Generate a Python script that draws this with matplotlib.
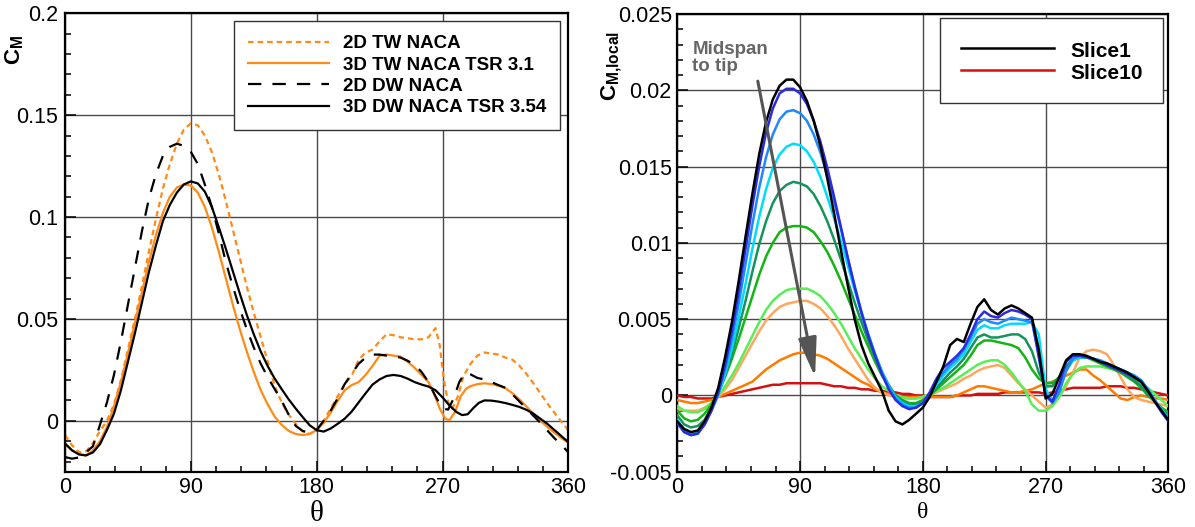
#moment coefficient vs azimuth: 2D/3D comparison (left) and spanwise slices (right)

import matplotlib
matplotlib.use('Agg')
import matplotlib.pyplot as plt
from matplotlib.ticker import MultipleLocator, FuncFormatter

plt.rcParams['font.family'] = 'Liberation Sans'
plt.rcParams['mathtext.fontset'] = 'custom'
plt.rcParams['mathtext.rm'] = 'Liberation Sans'
plt.rcParams['mathtext.bf'] = 'Liberation Sans:bold'

# ---------- left panel data ----------
tw2d_theta = [0, 5, 10, 15, 20, 25, 30, 35, 40, 45, 50, 55, 60, 65, 70, 75, 80, 85, 90,
              95, 100, 105, 110, 115, 120, 125, 130, 135, 140, 145, 150, 155, 160, 165, 170,
              175, 180, 185, 190, 195, 200, 205, 210, 215, 220, 225, 230, 235, 240, 245,
              250, 255, 260, 265, 268, 271, 274, 277, 281, 285, 290, 295, 300, 305, 310,
              315, 320, 325, 330, 335, 340, 345, 350, 355, 360]
tw2d_cm = [-0.007, -0.012, -0.0155, -0.015, -0.011, -0.005, 0.000, 0.008, 0.020, 0.035,
           0.050, 0.066, 0.083, 0.099, 0.114, 0.126, 0.136, 0.143, 0.146, 0.145, 0.140,
           0.132, 0.121, 0.108, 0.094, 0.080, 0.066, 0.053, 0.041, 0.029, 0.017, 0.009,
           0.003, -0.0015, -0.0052, -0.0065, -0.0045, 0.000, 0.006, 0.012, 0.018, 0.022,
           0.030, 0.0335, 0.035, 0.039, 0.0425, 0.042, 0.041, 0.0405, 0.040, 0.040, 0.041,
           0.0455, 0.037, 0.020, 0.009, 0.006, 0.012, 0.022, 0.028, 0.032, 0.0335, 0.033,
           0.0325, 0.031, 0.030, 0.027, 0.023, 0.0184, 0.0135, 0.0085, 0.004, -0.0005,
           -0.0046]

tw3d_theta = [0, 5, 10, 15, 20, 25, 30, 35, 40, 45, 50, 55, 60, 65, 70, 75, 80, 85, 90,
              95, 100, 105, 110, 115, 120, 125, 130, 135, 140, 145, 150, 155, 160, 165, 170,
              175, 180, 185, 190, 195, 200, 205, 210, 215, 220, 225, 230, 235, 240, 245,
              250, 255, 260, 265, 268, 272, 275, 279, 283, 287, 290, 295, 300, 305, 310,
              315, 320, 325, 330, 335, 340, 345, 350, 355, 360]
tw3d_cm = [-0.011, -0.0145, -0.0165, -0.017, -0.0145, -0.010, -0.003, 0.007, 0.019, 0.033,
           0.048, 0.063, 0.078, 0.091, 0.102, 0.110, 0.1145, 0.116, 0.1155, 0.112, 0.105,
           0.095, 0.083, 0.070, 0.057, 0.045, 0.034, 0.024, 0.015, 0.008, 0.002, -0.002,
           -0.005, -0.0065, -0.007, -0.0065, -0.0045, -0.001, 0.004, 0.0097, 0.015, 0.0175,
           0.019, 0.0225, 0.027, 0.032, 0.0325, 0.032, 0.0315, 0.029, 0.026, 0.0225, 0.019,
           0.0115, 0.006, 0.001, 0.0003, 0.0044, 0.012, 0.0158, 0.017, 0.018, 0.0184, 0.018,
           0.0172, 0.016, 0.0135, 0.0105, 0.007, 0.0035, 0.000, -0.003, -0.0058, -0.0085,
           -0.0108]

dw2d_theta = [0, 5, 10, 15, 20, 25, 30, 35, 40, 45, 50, 55, 60, 65, 70, 75, 80, 85, 90,
              95, 100, 105, 110, 115, 120, 125, 130, 135, 140, 145, 150, 155, 160, 165, 170,
              175, 180, 185, 190, 195, 200, 205, 210, 215, 220, 225, 230, 235, 240, 245,
              250, 255, 260, 265, 270, 274, 278, 282, 286, 290, 295, 300, 305, 310, 315,
              320, 325, 330, 335, 340, 345, 350, 355, 360]
dw2d_cm = [-0.0178, -0.0186, -0.018, -0.0155, -0.0125, -0.002, 0.009, 0.0225, 0.039, 0.057,
           0.075, 0.093, 0.109, 0.121, 0.130, 0.1345, 0.136, 0.135, 0.132, 0.126, 0.116,
           0.105, 0.092, 0.078, 0.066, 0.055, 0.045, 0.036, 0.028, 0.0214, 0.0155, 0.0097,
           0.003, -0.0025, -0.005, -0.006, -0.0045, 0.000, 0.005, 0.011, 0.018, 0.023,
           0.028, 0.031, 0.0325, 0.0325, 0.032, 0.0318, 0.031, 0.0295, 0.0275, 0.024,
           0.019, 0.012, 0.006, 0.0055, 0.011, 0.019, 0.0235, 0.0228, 0.021, 0.0203, 0.019,
           0.0175, 0.0162, 0.013, 0.0095, 0.006, 0.0025, -0.001, -0.0048, -0.0085, -0.0118,
           -0.0155]

dw3d_theta = [0, 5, 10, 15, 20, 25, 30, 35, 40, 45, 50, 55, 60, 65, 70, 75, 80, 85, 90,
              95, 100, 105, 110, 115, 120, 125, 130, 135, 140, 145, 150, 155, 160, 165, 170,
              175, 180, 185, 190, 195, 200, 205, 210, 215, 220, 225, 230, 235, 240, 245,
              250, 255, 260, 265, 270, 275, 280, 284, 288, 292, 296, 300, 305, 310, 315,
              320, 325, 330, 335, 340, 345, 350, 355, 360]
dw3d_cm = [-0.0112, -0.0145, -0.0165, -0.017, -0.0155, -0.0115, -0.0045, 0.0035, 0.015,
           0.029, 0.043, 0.058, 0.073, 0.086, 0.098, 0.106, 0.112, 0.116, 0.1175, 0.1165,
           0.1125, 0.105, 0.095, 0.0845, 0.0735, 0.0625, 0.052, 0.0425, 0.034, 0.0268,
           0.0207, 0.0155, 0.0105, 0.006, 0.0018, -0.0022, -0.0046, -0.0053, -0.0038,
           -0.0015, 0.001, 0.0045, 0.009, 0.0135, 0.0178, 0.0203, 0.022, 0.0225, 0.022,
           0.0207, 0.019, 0.0178, 0.0168, 0.015, 0.0115, 0.0075, 0.0043, 0.0028, 0.0032,
           0.0062, 0.0088, 0.0100, 0.0099, 0.0094, 0.0087, 0.0078, 0.0068, 0.0054, 0.0035,
           0.001, -0.0015, -0.0045, -0.0075, -0.0105]

# ---------- right panel data (slice 1 = midspan ... slice 10 = tip) ----------
theta_r = [0, 5, 10, 15, 20, 25, 30, 35, 40, 45, 50, 55, 60, 65, 70, 75, 80, 85, 90, 95,
           100, 105, 110, 115, 120, 125, 130, 135, 140, 145, 150, 155, 160, 165, 170, 175,
           180, 185, 190, 195, 200, 205, 210, 215, 220, 225, 230, 235, 240, 245, 250, 255,
           260, 265, 270, 275, 280, 285, 290, 295, 300, 305, 310, 315, 320, 325, 330, 335,
           340, 345, 350, 355, 360]

slice1 = [-0.0017, -0.0022, -0.0024, -0.0023, -0.0017, -0.0008, 0.0005, 0.0025, 0.0048,
          0.0075, 0.0104, 0.0132, 0.0158, 0.0179, 0.0194, 0.0203, 0.0207, 0.0207, 0.0202,
          0.0193, 0.0180, 0.0163, 0.0142, 0.0119, 0.0095, 0.0072, 0.0050, 0.0033, 0.0021,
          0.0012, 0.0003, -0.0010, -0.0017, -0.0019, -0.0016, -0.0012, -0.0008, -0.0001,
          0.0009, 0.0019, 0.0033, 0.0037, 0.0035, 0.0047, 0.0058, 0.0063, 0.0056, 0.0053,
          0.0057, 0.0059, 0.0057, 0.0054, 0.0051, 0.0030, -0.0002, 0.0001, 0.0012, 0.0023,
          0.0027, 0.0027, 0.0026, 0.0024, 0.0022, 0.0021, 0.0019, 0.0017, 0.0015, 0.0012,
          0.0009, 0.0003, -0.0004, -0.0010, -0.0016]
slice2 = [-0.0018, -0.0024, -0.0026, -0.0025, -0.0019, -0.0010, 0.0002, 0.0020, 0.0042,
          0.0068, 0.0096, 0.0124, 0.0150, 0.0172, 0.0188, 0.0198, 0.0201, 0.0201, 0.0198,
          0.0191, 0.0180, 0.0166, 0.0149, 0.0130, 0.0110, 0.0090, 0.0071, 0.0054, 0.0039,
          0.0026, 0.0014, 0.0004, -0.0003, -0.0007, -0.0009, -0.0008, -0.0005, 0.0002,
          0.0011, 0.0018, 0.0022, 0.0026, 0.0031, 0.0040, 0.0050, 0.0055, 0.0052, 0.0051,
          0.0054, 0.0056, 0.0055, 0.0053, 0.0050, 0.0025, 0.0000, -0.0004, 0.0007, 0.0022,
          0.0026, 0.0026, 0.0025, 0.0024, 0.0022, 0.0020, 0.0018, 0.0016, 0.0014, 0.0012,
          0.0009, 0.0003, -0.0004, -0.0011, -0.0017]
slice3 = [-0.0018, -0.0024, -0.0026, -0.0025, -0.0019, -0.0010, 0.0001, 0.0017, 0.0037,
          0.0060, 0.0086, 0.0112, 0.0136, 0.0156, 0.0171, 0.0181, 0.0186, 0.0187, 0.0185,
          0.0180, 0.0171, 0.0159, 0.0144, 0.0127, 0.0109, 0.0090, 0.0072, 0.0055, 0.0040,
          0.0027, 0.0015, 0.0005, -0.0002, -0.0006, -0.0008, -0.0008, -0.0005, 0.0001,
          0.0009, 0.0015, 0.0020, 0.0024, 0.0030, 0.0038, 0.0047, 0.0050, 0.0048, 0.0047,
          0.0049, 0.0051, 0.0050, 0.0049, 0.0048, 0.0027, 0.0000, -0.0005, 0.0002, 0.0016,
          0.0024, 0.0026, 0.0025, 0.0024, 0.0023, 0.0021, 0.0019, 0.0017, 0.0015, 0.0013,
          0.0010, 0.0004, -0.0003, -0.0010, -0.0016]
slice4 = [-0.0016, -0.0023, -0.0025, -0.0024, -0.0019, -0.0010, 0.0000, 0.0014, 0.0031,
          0.0051, 0.0073, 0.0096, 0.0117, 0.0135, 0.0149, 0.0158, 0.0163, 0.0165, 0.0164,
          0.0160, 0.0153, 0.0143, 0.0130, 0.0116, 0.0101, 0.0085, 0.0069, 0.0054, 0.0040,
          0.0027, 0.0016, 0.0006, -0.0001, -0.0005, -0.0007, -0.0007, -0.0005, 0.0000,
          0.0007, 0.0013, 0.0018, 0.0022, 0.0027, 0.0035, 0.0043, 0.0046, 0.0044, 0.0044,
          0.0046, 0.0047, 0.0047, 0.0047, 0.0048, 0.0040, 0.0004, -0.0003, 0.0004, 0.0016,
          0.0023, 0.0025, 0.0025, 0.0024, 0.0023, 0.0021, 0.0019, 0.0017, 0.0015, 0.0013,
          0.0010, 0.0004, -0.0003, -0.0009, -0.0015]
slice5 = [-0.0013, -0.0019, -0.0021, -0.0020, -0.0016, -0.0008, 0.0001, 0.0013, 0.0027,
          0.0044, 0.0062, 0.0081, 0.0099, 0.0114, 0.0126, 0.0134, 0.0138, 0.0140, 0.0139,
          0.0137, 0.0132, 0.0124, 0.0114, 0.0102, 0.0089, 0.0075, 0.0061, 0.0048, 0.0036,
          0.0025, 0.0015, 0.0007, 0.0000, -0.0004, -0.0006, -0.0006, -0.0004, 0.0000,
          0.0005, 0.0010, 0.0015, 0.0019, 0.0024, 0.0031, 0.0038, 0.0040, 0.0038, 0.0038,
          0.0039, 0.0040, 0.0040, 0.0037, 0.0029, 0.0015, 0.0006, 0.0006, 0.0012, 0.0019,
          0.0024, 0.0025, 0.0025, 0.0024, 0.0022, 0.0020, 0.0018, 0.0016, 0.0013, 0.0010,
          0.0006, 0.0001, -0.0004, -0.0009, -0.0013]
slice6 = [-0.0010, -0.0015, -0.0017, -0.0016, -0.0012, -0.0006, 0.0002, 0.0012, 0.0024,
          0.0037, 0.0051, 0.0065, 0.0079, 0.0091, 0.0100, 0.0107, 0.0110, 0.0111, 0.0111,
          0.0110, 0.0107, 0.0101, 0.0094, 0.0085, 0.0075, 0.0064, 0.0053, 0.0042, 0.0032,
          0.0022, 0.0013, 0.0006, 0.0000, -0.0003, -0.0005, -0.0005, -0.0003, 0.0000,
          0.0004, 0.0008, 0.0012, 0.0016, 0.0020, 0.0026, 0.0033, 0.0036, 0.0036, 0.0035,
          0.0034, 0.0033, 0.0031, 0.0025, 0.0017, 0.0011, 0.0008, 0.0008, 0.0012, 0.0018,
          0.0023, 0.0025, 0.0025, 0.0023, 0.0021, 0.0019, 0.0017, 0.0015, 0.0012, 0.0009,
          0.0005, 0.0000, -0.0004, -0.0008, -0.0011]
slice7 = [-0.0007, -0.0010, -0.0011, -0.0011, -0.0009, -0.0005, 0.0000, 0.0006, 0.0013,
          0.0021, 0.0030, 0.0039, 0.0048, 0.0056, 0.0062, 0.0066, 0.0069, 0.0070, 0.0070,
          0.0070, 0.0068, 0.0065, 0.0060, 0.0054, 0.0047, 0.0039, 0.0031, 0.0024, 0.0017,
          0.0011, 0.0006, 0.0003, 0.0000, -0.0001, -0.0002, -0.0002, -0.0001, 0.0001,
          0.0003, 0.0005, 0.0008, 0.0011, 0.0014, 0.0017, 0.0020, 0.0022, 0.0023, 0.0023,
          0.0020, 0.0015, 0.0009, 0.0003, -0.0006, -0.0010, -0.0010, -0.0007, -0.0001,
          0.0008, 0.0014, 0.0018, 0.0019, 0.0019, 0.0019, 0.0018, 0.0017, 0.0015, 0.0013,
          0.0011, 0.0008, 0.0005, 0.0001, -0.0003, -0.0007]
slice8 = [-0.0009, -0.0010, -0.0010, -0.0010, -0.0008, -0.0005, -0.0001, 0.0004, 0.0010,
          0.0018, 0.0026, 0.0034, 0.0042, 0.0049, 0.0054, 0.0058, 0.0060, 0.0061, 0.0062,
          0.0062, 0.0060, 0.0057, 0.0052, 0.0046, 0.0039, 0.0031, 0.0024, 0.0017, 0.0010,
          0.0005, 0.0002, 0.0000, -0.0001, -0.0002, -0.0002, -0.0002, -0.0001, 0.0000,
          0.0002, 0.0004, 0.0006, 0.0008, 0.0011, 0.0013, 0.0016, 0.0018, 0.0019, 0.0020,
          0.0018, 0.0013, 0.0008, 0.0004, 0.0000, -0.0004, -0.0008, -0.0006, -0.0001,
          0.0006, 0.0015, 0.0025, 0.0029, 0.0030, 0.0029, 0.0027, 0.0020, 0.0012, 0.0004,
          -0.0001, -0.0003, -0.0004, -0.0005, -0.0006, -0.0007]
slice9 = [-0.0003, -0.0004, -0.0005, -0.0005, -0.0004, -0.0003, -0.0001, 0.0001, 0.0003,
          0.0005, 0.0007, 0.0009, 0.0013, 0.0017, 0.0020, 0.0023, 0.0025, 0.0027, 0.0028,
          0.0028, 0.0027, 0.0026, 0.0024, 0.0021, 0.0018, 0.0015, 0.0012, 0.0009, 0.0007,
          0.0004, 0.0002, 0.0001, 0.0000, -0.0001, -0.0001, -0.0001, -0.0001, -0.0001,
          -0.0001, -0.0001, -0.0001, 0.0000, 0.0002, 0.0004, 0.0006, 0.0006, 0.0005,
          0.0004, 0.0003, 0.0002, 0.0002, 0.0003, 0.0004, 0.0006, 0.0008, 0.0009, 0.0011,
          0.0013, 0.0015, 0.0017, 0.0017, 0.0013, 0.0010, 0.0006, 0.0002, -0.0002, -0.0003,
          -0.0001, 0.0000, -0.0001, -0.0002, -0.0002, -0.0003]
slice10 = [0.0000, -0.0001, -0.0001, -0.0002, -0.0002, -0.0002, -0.0001, 0.0000, 0.0001,
           0.0002, 0.0003, 0.0004, 0.0005, 0.0006, 0.0007, 0.0007, 0.0008, 0.0008, 0.0008,
           0.0008, 0.0008, 0.0008, 0.0007, 0.0006, 0.0006, 0.0005, 0.0005, 0.0004, 0.0004,
           0.0003, 0.0003, 0.0002, 0.0002, 0.0001, 0.0001, 0.0000, 0.0000, -0.0001, -0.0001,
           -0.0001, -0.0001, 0.0000, 0.0000, 0.0000, 0.0001, 0.0001, 0.0001, 0.0001, 0.0002,
           0.0002, 0.0002, 0.0002, 0.0002, 0.0002, 0.0001, 0.0002, 0.0003, 0.0004, 0.0005,
           0.0005, 0.0005, 0.0005, 0.0005, 0.0006, 0.0006, 0.0006, 0.0005, 0.0005, 0.0004,
           0.0003, 0.0002, 0.0001, 0.0000]

slices = [slice1, slice2, slice3, slice4, slice5, slice6, slice7, slice8, slice9, slice10]
slice_colors = ['black', '#2b2be6', '#1e88ff', '#00dcff', '#14935c', '#12b512',
                '#58ee58', '#ffa75e', '#ff7b00', '#d41010']

orange = '#ff8a16'
grid_col = '#4a4a4a'


def style_axes(ax, ymin, ymax, ymaj, ymin_step, ypad):
    ax.set_xlim(0, 360)
    ax.set_ylim(ymin, ymax)
    ax.xaxis.set_major_locator(MultipleLocator(90))
    ax.xaxis.set_minor_locator(MultipleLocator(18))
    ax.yaxis.set_major_locator(MultipleLocator(ymaj))
    ax.yaxis.set_minor_locator(MultipleLocator(ymin_step))
    ax.yaxis.set_major_formatter(FuncFormatter(lambda v, p: '%g' % round(v, 6)))
    ax.grid(True, which='major', color=grid_col, lw=1.0)
    ax.tick_params(which='both', direction='in', top=False, right=False,
                   labelsize=15.5, width=1.1)
    ax.tick_params(which='major', length=8)
    ax.tick_params(which='minor', length=4.5)
    ax.tick_params(axis='x', pad=4)
    ax.tick_params(axis='y', pad=ypad)
    for s in ax.spines.values():
        s.set_linewidth(1.6)
    ax.set_axisbelow(True)


fig = plt.figure(figsize=(11.95, 5.27), dpi=100)
ax1 = fig.add_axes([0.0544, 0.1049, 0.4212, 0.8698])
ax2 = fig.add_axes([0.5668, 0.1049, 0.4109, 0.8685])

# left panel
ax1.plot(tw2d_theta, tw2d_cm, color=orange, lw=1.6, ls=(0, (2.5, 1.8)), label='2D TW NACA')
ax1.plot(tw3d_theta, tw3d_cm, color=orange, lw=1.6, label='3D TW NACA TSR 3.1')
ax1.plot(dw2d_theta, dw2d_cm, color='black', lw=1.6, ls=(0, (6, 5)), label='2D DW NACA')
ax1.plot(dw3d_theta, dw3d_cm, color='black', lw=1.6, label='3D DW NACA TSR 3.54')
style_axes(ax1, -0.025, 0.2, 0.05, 0.01, 5)
leg1 = ax1.legend(loc='upper right', bbox_to_anchor=(0.984, 0.983), borderaxespad=0,
                  fancybox=False, edgecolor='#333333', framealpha=1, handlelength=4.3,
                  handletextpad=0.75, labelspacing=0.22, borderpad=0.75,
                  prop={'weight': 'bold', 'size': 13.5})
leg1.get_frame().set_linewidth(1.0)
fig.text(0.0126, 0.905, r'$\mathbf{C_{M}}$', rotation=90, fontsize=16,
         ha='center', va='center')
fig.text(0.265, 0.024, 'θ', family='Liberation Serif', fontsize=21,
         ha='center', va='center')

# right panel
for i, (vals, col) in enumerate(zip(slices, slice_colors)):
    lab = 'Slice1' if i == 0 else ('Slice10' if i == 9 else None)
    ax2.plot(theta_r, vals, color=col, lw=1.8, label=lab, zorder=3 + (10 - i) * 0.01)
style_axes(ax2, -0.005, 0.025, 0.005, 0.001, 4)
leg2 = ax2.legend(loc='upper right', bbox_to_anchor=(0.99, 0.992), borderaxespad=0,
                  fancybox=False, edgecolor='#333333', framealpha=1, handlelength=4.5,
                  handleheight=1.25, handletextpad=0.75, labelspacing=0.0, borderpad=1.0,
                  prop={'weight': 'bold', 'size': 15})
leg2.get_frame().set_linewidth(1.0)
fig.text(0.5115, 0.875, r'$\mathbf{C_{M{,}local}}$', rotation=90, fontsize=16,
         ha='center', va='center')
fig.text(0.7724, 0.027, 'θ', family='Liberation Serif', fontsize=17,
         ha='center', va='center')
ax2.text(11, 0.0232, 'Midspan\nto tip', color='#666666', fontsize=13.5, weight='bold',
         ha='left', va='top', linespacing=0.95)
ax2.annotate('', xy=(101, 0.0012), xytext=(59, 0.0206),
             arrowprops=dict(arrowstyle='-|>,head_length=1.2,head_width=0.28',
                             color='#555555', lw=2.2, mutation_scale=20,
                             shrinkA=0, shrinkB=0), zorder=6)

fig.savefig('out.png', dpi=100)
